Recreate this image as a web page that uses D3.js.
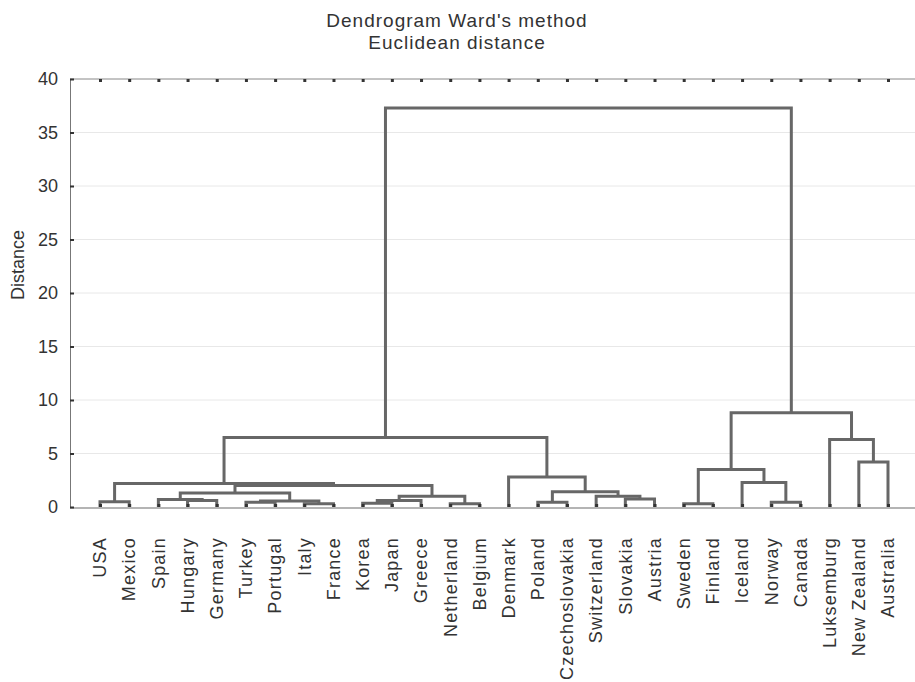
<!DOCTYPE html>
<html>
<head>
<meta charset="utf-8">
<script src="https://cdn.jsdelivr.net/npm/d3@7"></script>
<style>
  body { margin: 0; background: #fff; }
  text { font-family: "Liberation Sans", Arial, sans-serif; fill: #333; }
</style>
</head>
<body>
<svg id="chart" width="915" height="682"></svg>
<script>
// leaf order as it reads along the bottom
const countries = ['USA', 'Mexico', 'Spain', 'Hungary', 'Germany', 'Turkey', 'Portugal', 'Italy',
  'France', 'Korea', 'Japan', 'Greece', 'Netherland', 'Belgium', 'Denmark', 'Poland',
  'Czechoslovakia', 'Switzerland', 'Slovakia', 'Austria', 'Sweden', 'Finland', 'Iceland',
  'Norway', 'Canada', 'Luksemburg', 'New Zealand', 'Australia'];

// linkage rows: [left id, right id, distance]; ids < 28 are leaves, 28+ are earlier merges
const linkage = [
  [7, 8, 0.3], [12, 13, 0.3], [20, 21, 0.3], [9, 10, 0.35], [5, 6, 0.45],
  [15, 16, 0.45], [23, 24, 0.45], [0, 1, 0.5], [32, 28, 0.55], [3, 4, 0.6],
  [31, 11, 0.6], [2, 37, 0.7], [18, 19, 0.75], [38, 29, 1.0], [17, 40, 1.0],
  [39, 36, 1.3], [33, 42, 1.43], [43, 41, 2.0], [35, 45, 2.2], [22, 34, 2.3],
  [14, 44, 2.8], [30, 47, 3.5], [26, 27, 4.2], [25, 50, 6.3], [46, 48, 6.5],
  [49, 51, 8.8], [52, 53, 37.3]
];

const yTicks = [0, 5, 10, 15, 20, 25, 30, 35, 40];
const titleLines = ["Dendrogram Ward's method", 'Euclidean distance'];

const svg = d3.select('#chart');
const plotL = 70, plotR = 920, plotT = 79, plotB = 507;

const x = d3.scalePoint().domain(countries).range([100, 888]);
const y = d3.scaleLinear().domain([0, 40]).range([plotB, plotT]);

// grid
svg.append('g').selectAll('line')
  .data(yTicks.filter(d => d > 0 && d < 40))
  .enter().append('line')
  .attr('x1', plotL).attr('x2', plotR)
  .attr('y1', d => y(d)).attr('y2', d => y(d))
  .style('stroke', '#e8e8e8');

// node positions
const nodes = countries.map(c => ({ x: x(c), h: 0 }));
linkage.forEach(([a, b, h]) => {
  nodes.push({ x: (nodes[a].x + nodes[b].x) / 2, h: h });
});

svg.append('g').selectAll('path')
  .data(linkage)
  .enter().append('path')
  .attr('d', ([a, b, h]) =>
    'M' + nodes[a].x + ',' + y(nodes[a].h) + 'V' + y(h) + 'H' + nodes[b].x + 'V' + y(nodes[b].h))
  .style('fill', 'none')
  .style('stroke', '#676767')
  .style('stroke-width', 3);

// frame
svg.append('line').attr('x1', plotL).attr('x2', plotR).attr('y1', plotT).attr('y2', plotT)
  .style('stroke', '#888');
svg.append('line').attr('x1', plotL).attr('x2', plotR).attr('y1', plotB + 1).attr('y2', plotB + 1)
  .style('stroke', '#b4b4b4').style('stroke-width', 2);

const yAxis = svg.append('g')
  .attr('transform', 'translate(' + plotL + ',0)')
  .call(d3.axisLeft(y).tickValues(yTicks).tickSize(-4).tickSizeOuter(0).tickPadding(12));
yAxis.select('.domain').style('stroke', '#777');
yAxis.selectAll('.tick line').style('stroke', '#333').style('stroke-width', 2);
yAxis.selectAll('.tick text').style('font-size', '18px').style('fill', '#333')
  .style('font-family', '"Liberation Sans", Arial, sans-serif');

// little tick squares on top and bottom edges
const topAxis = svg.append('g')
  .attr('transform', 'translate(0,' + plotT + ')')
  .call(d3.axisTop(x).tickSize(-3).tickSizeOuter(0).tickFormat(''));
topAxis.select('.domain').remove();
topAxis.selectAll('.tick line').style('stroke', '#333').style('stroke-width', 3);

const bottomAxis = svg.append('g')
  .attr('transform', 'translate(0,' + plotB + ')')
  .call(d3.axisBottom(x).tickSize(-3).tickSizeOuter(0).tickFormat(''));
bottomAxis.select('.domain').remove();
bottomAxis.selectAll('.tick line').style('stroke', '#333').style('stroke-width', 3);

// leaf labels
svg.append('g').selectAll('text')
  .data(countries)
  .enter().append('text')
  .attr('transform', d => 'translate(' + x(d) + ',537) rotate(-90)')
  .attr('dy', '0.35em')
  .attr('text-anchor', 'end')
  .style('font-size', '18px')
  .style('letter-spacing', '1.2px')
  .text(d => d);

// title
svg.append('g').selectAll('text')
  .data(titleLines)
  .enter().append('text')
  .attr('x', 457)
  .attr('y', (d, i) => 27 + i * 22)
  .attr('text-anchor', 'middle')
  .style('font-size', '19px')
  .style('letter-spacing', '1px')
  .text(d => d);

svg.append('text')
  .attr('transform', 'translate(24,265) rotate(-90)')
  .attr('text-anchor', 'middle')
  .style('font-size', '18px')
  .text('Distance');
</script>
</body>
</html>
